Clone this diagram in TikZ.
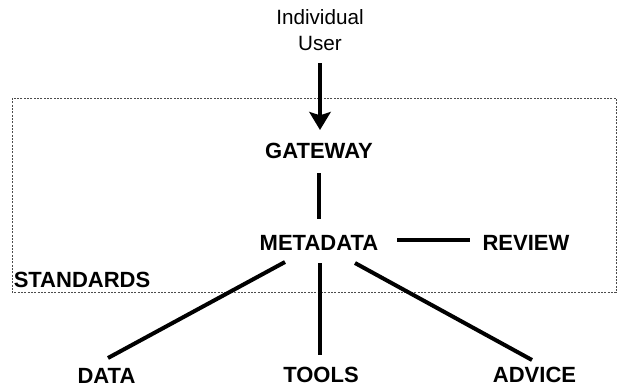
\documentclass[tikz,border=0pt]{standalone}
\usepackage{fontspec}
\setmainfont{Liberation Sans}
\usetikzlibrary{arrows.meta}
\begin{document}
\begin{tikzpicture}[x=0.75pt,y=-0.75pt,
  lbl/.style={font=\fontsize{16.5}{19}\selectfont\bfseries, inner sep=0pt},
  usr/.style={font=\fontsize{15.5}{19.2}\selectfont, inner sep=0pt, align=center},
  conn/.style={line width=3pt},
  arr/.style={line width=3pt, -{Stealth[length=13.5pt,width=16pt,inset=2.5pt]}},
  frame/.style={draw=black!70, line width=0.75pt, dash pattern=on 1.5pt off 1pt}]
\useasboundingbox (0,0) rectangle (617,389);
\draw[frame] (12,98) rectangle (616,292.5);
\node[usr] (user) at (320,30) {Individual\\User};
\node[lbl] (gateway) at (319,150.5) {GATEWAY};
\node[lbl] (metadata) at (319,242.5) {METADATA};
\node[lbl] (review) at (526,242.5) {REVIEW};
\node[lbl] (standards) at (82,279.5) {STANDARDS};
\node[lbl] (data) at (106.5,376) {DATA};
\node[lbl] (tools) at (321,375) {TOOLS};
\node[lbl] (advice) at (534.5,375) {ADVICE};
\draw[arr] ([shift={(0,33)}]user.center) -- ([shift={(1,-20.5)}]gateway.center);
\draw[conn] ([shift={(0,22.5)}]gateway.center) -- ([shift={(0,-23.5)}]metadata.center);
\draw[conn] ([shift={(78,-2.5)}]metadata.center) -- ([shift={(-56,-2.5)}]review.center);
\draw[conn] ([shift={(-34,19.5)}]metadata.center) -- ([shift={(1.5,-18)}]data.center);
\draw[conn] ([shift={(1,20.5)}]metadata.center) -- ([shift={(-1,-20)}]tools.center);
\draw[conn] ([shift={(36,20.5)}]metadata.center) -- ([shift={(-2.5,-15)}]advice.center);
\end{tikzpicture}
\end{document}
